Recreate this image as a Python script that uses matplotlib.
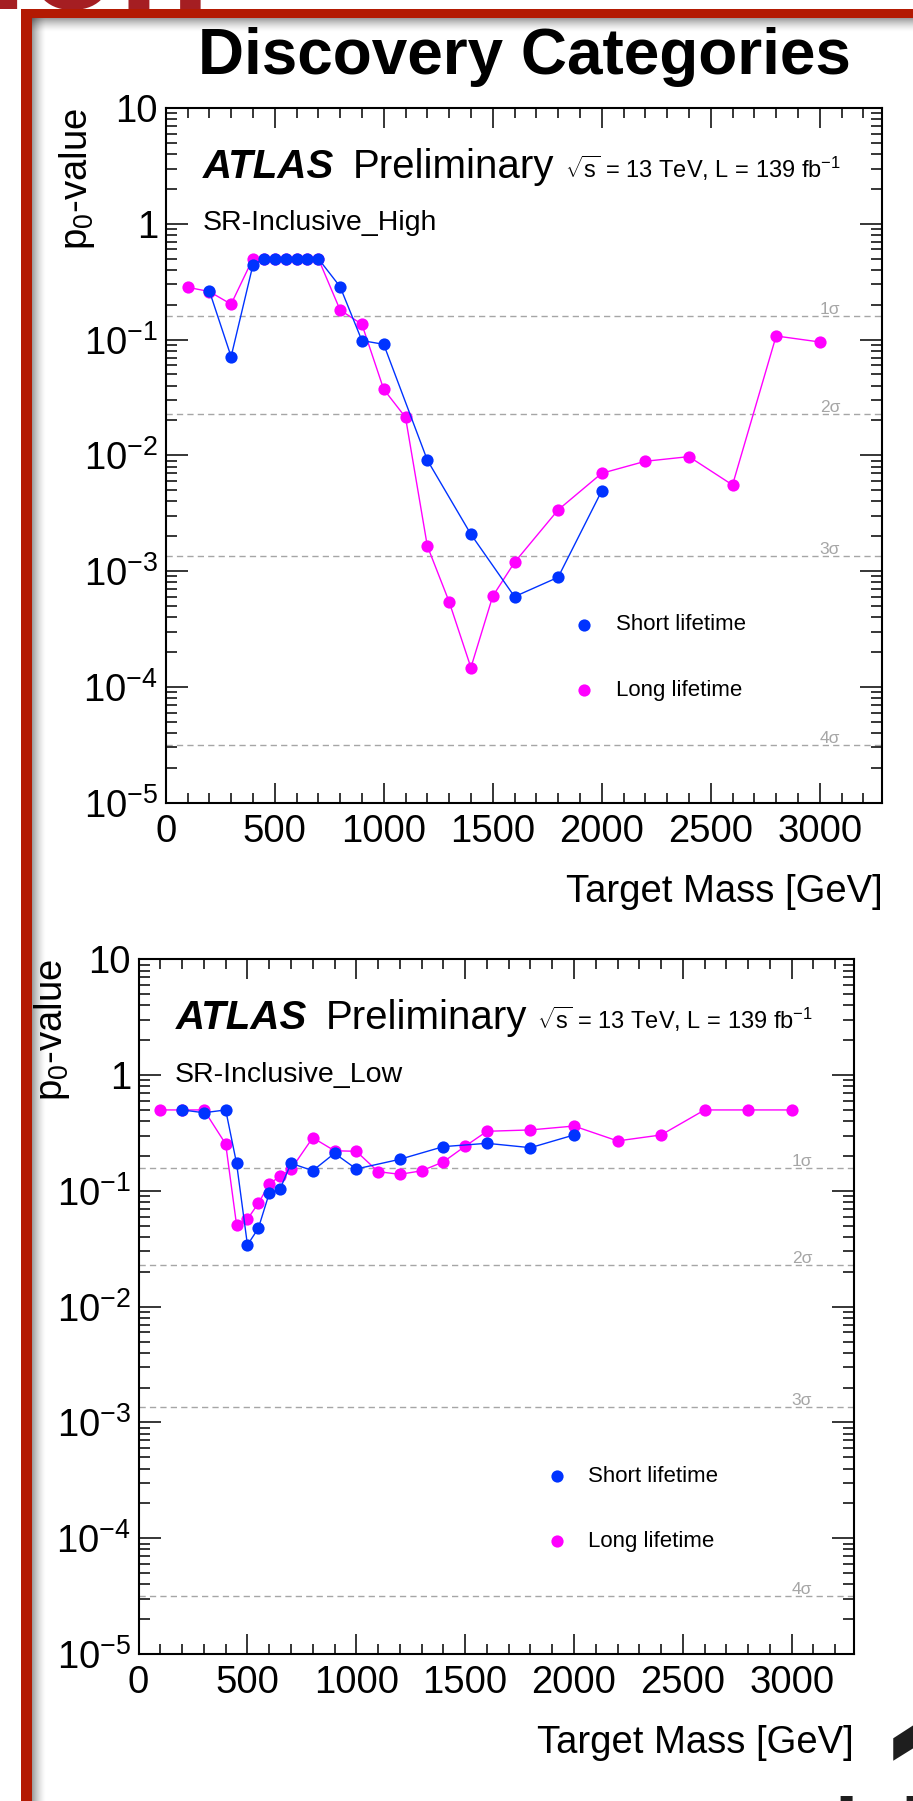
import matplotlib
matplotlib.use("Agg")
import matplotlib.pyplot as plt
from matplotlib.patches import Rectangle
from matplotlib.ticker import MultipleLocator, FixedLocator, FixedFormatter, LogLocator, NullFormatter

plt.rcParams['font.family'] = ['Liberation Sans', 'DejaVu Sans']
plt.rcParams['mathtext.fontset'] = 'custom'
plt.rcParams['mathtext.rm'] = 'Liberation Sans'
plt.rcParams['mathtext.it'] = 'Liberation Sans:italic'
plt.rcParams['mathtext.bf'] = 'Liberation Sans:bold'

# ---------------- data ----------------
# SR-Inclusive_High
high_short_mass = [200, 300, 400, 450, 500, 550, 600, 650, 700, 800, 900, 1000,
                   1200, 1400, 1600, 1800, 2000]
high_short_p0 = [0.264, 0.0712, 0.44, 0.5, 0.5, 0.5, 0.5, 0.5, 0.5, 0.286, 0.098,
                 0.091, 0.0091, 0.00208, 0.000602, 0.000885, 0.00493]
high_long_mass = [100, 200, 300, 400, 450, 500, 550, 600, 650, 700, 800, 900, 1000,
                  1100, 1200, 1300, 1400, 1500, 1600, 1800, 2000, 2200, 2400, 2600,
                  2800, 3000]
high_long_p0 = [0.283, 0.26, 0.202, 0.5, 0.5, 0.5, 0.5, 0.5, 0.5, 0.5, 0.180, 0.1355,
                0.0372, 0.0213, 0.00165, 0.000545, 0.000147, 0.000607, 0.00119,
                0.00338, 0.0070, 0.00889, 0.00975, 0.00555, 0.1074, 0.0953]

# SR-Inclusive_Low
low_short_mass = [200, 300, 400, 450, 500, 550, 600, 650, 700, 800, 900, 1000,
                  1200, 1400, 1600, 1800, 2000]
low_short_p0 = [0.5, 0.473, 0.5, 0.173, 0.0341, 0.0475, 0.0953, 0.1038, 0.173,
                0.1495, 0.211, 0.1546, 0.1874, 0.241, 0.2575, 0.236, 0.304]
low_long_mass = [100, 200, 300, 400, 450, 500, 550, 600, 650, 700, 800, 900, 1000,
                 1100, 1200, 1300, 1400, 1500, 1600, 1800, 2000, 2200, 2400, 2600,
                 2800, 3000]
low_long_p0 = [0.5, 0.5, 0.5, 0.254, 0.0508, 0.0569, 0.0782, 0.114, 0.1345, 0.1536,
               0.288, 0.222, 0.2197, 0.1465, 0.139, 0.149, 0.178, 0.243, 0.327,
               0.336, 0.363, 0.270, 0.304, 0.5, 0.5, 0.5]

# local significance reference levels
sigma_labels = ['1σ', '2σ', '3σ', '4σ']
sigma_p0 = [0.1587, 0.02275, 0.00135, 3.17e-5]

y_ticks = [1e-5, 1e-4, 1e-3, 1e-2, 1e-1, 1, 10]
y_tick_labels = [r'$10^{-5}$', r'$10^{-4}$', r'$10^{-3}$', r'$10^{-2}$',
                 r'$10^{-1}$', '1', '10']

series_names = ['Short lifetime', 'Long lifetime']

# ---------------- style ----------------
BLUE = '#0033FF'
MAGENTA = '#FF00FF'
GRAY = '#A6A6A6'
RED = '#B31A02'
MS = 8.8

W, H = 913, 1801
fig = plt.figure(figsize=(W / 100, H / 100), dpi=100)
fig.patch.set_facecolor('white')


def px_rect(x0, y0, w, h, **kw):
    """Rectangle given in pixels measured from the top-left corner."""
    r = Rectangle((x0 / W, 1 - (y0 + h) / H), w / W, h / H,
                  transform=fig.transFigure, linewidth=0, **kw)
    fig.add_artist(r)
    return r


def panel(ax_rect, region, short_m, short_p, long_m, long_p, ylab_x):
    ax = fig.add_axes(ax_rect)
    ax.set_facecolor('none')
    ax.set_yscale('log')
    ax.set_xlim(0, 3287)
    ax.set_ylim(1e-5, 10)

    for p, lab in zip(sigma_p0, sigma_labels):
        ax.axhline(p, color=GRAY, lw=1.0, dashes=(4.5, 3.0), zorder=1)
        ax.annotate(lab, xy=(3000, p), xytext=(0, 1.5), textcoords='offset points',
                    ha='left', va='baseline', fontsize=12.5, color=GRAY)

    ax.plot(long_m, long_p, '-', color=MAGENTA, lw=1.0, zorder=3)
    ax.plot(long_m, long_p, 'o', color=MAGENTA, ms=MS, mew=0, zorder=4)
    ax.plot(short_m, short_p, '-', color=BLUE, lw=1.0, zorder=5)
    ax.plot(short_m, short_p, 'o', color=BLUE, ms=MS, mew=0, zorder=6)

    # axes styling
    for s in ax.spines.values():
        s.set_linewidth(1.5)
    ax.xaxis.set_major_locator(MultipleLocator(500))
    ax.xaxis.set_minor_locator(MultipleLocator(100))
    ax.yaxis.set_major_locator(FixedLocator(y_ticks))
    ax.yaxis.set_major_formatter(FixedFormatter(y_tick_labels))
    ax.yaxis.set_minor_locator(LogLocator(base=10, subs=range(2, 10), numticks=20))
    ax.yaxis.set_minor_formatter(NullFormatter())
    ax.tick_params(which='both', direction='in', top=True, right=True, width=1.1)
    ax.tick_params(axis='x', which='major', length=14.4, pad=8, labelsize=27.5)
    ax.tick_params(axis='x', which='minor', length=7.2)
    ax.tick_params(axis='y', which='major', length=15.8, pad=5.5, labelsize=27.5)
    ax.tick_params(axis='y', which='minor', length=8.0)

    # ATLAS label block
    ax.text(0.052, 0.899, 'ATLAS', transform=ax.transAxes, fontsize=29,
            fontweight='bold', fontstyle='italic', va='baseline')
    ax.text(0.261, 0.899, 'Preliminary', transform=ax.transAxes, fontsize=29,
            va='baseline')
    ax.text(0.557, 0.899, r'$\sqrt{\mathrm{s}}$ = 13 TeV, L = 139 fb$^{-1}$',
            transform=ax.transAxes, fontsize=17, va='baseline')
    ax.text(0.051, 0.824, region, transform=ax.transAxes, fontsize=20.5,
            va='baseline')

    # legend
    for yy, col, name in zip([0.256, 0.162], [BLUE, MAGENTA], series_names):
        ax.plot([0.584], [yy], 'o', color=col, ms=MS, mew=0, transform=ax.transAxes,
                clip_on=False)
        ax.text(0.628, yy, name, transform=ax.transAxes, fontsize=16, va='center')

    # axis titles
    ax.annotate('Target Mass [GeV]', xy=(1, 0), xycoords='axes fraction',
                xytext=(0, -51), textcoords='offset points', ha='right', va='top',
                fontsize=27.5)
    top_px = (1 - ax_rect[1] - ax_rect[3]) * H
    fig.text(ylab_x / W, 1 - top_px / H, r'p$_{0}$-value', rotation=90,
             ha='left', va='top', fontsize=27.5)
    return ax


# axes placements (figure fractions)
ax_top = panel([165.7 / W, 1 - 802.7 / H, 716.6 / W, 694.7 / H], 'SR-Inclusive_High',
               high_short_mass, high_short_p0, high_long_mass, high_long_p0, 57)
ax_bot = panel([138.6 / W, 1 - 1654 / H, 715.6 / W, 694.7 / H], 'SR-Inclusive_Low',
               low_short_mass, low_short_p0, low_long_mass, low_long_p0, 32)

fig.text(524 / W, 1 - 74 / H, 'Discovery Categories', ha='center', va='baseline',
         fontsize=46, fontweight='bold')

# slide frame: inner shadow, red border and neighbouring slide text
n = 14
for i in range(n):
    a = 0.38 * (1 - i / n) ** 1.6
    px_rect(31.7 + i, 18.3, 1.0, H, color='black', alpha=a, zorder=2)
    px_rect(31.7, 18.3 + i, W, 1.0, color='black', alpha=a, zorder=2)

fig.text(-14.5 / W, 1 - 9.5 / H, 'ion', fontsize=108, fontweight='bold',
         color='#A51E22', ha='left', va='baseline', zorder=6)
px_rect(20.7, 9.3, W, 9.0, color=RED, zorder=7)
px_rect(20.7, 9.3, 11.0, H, color=RED, zorder=7)

fig.text(879 / W, 1 - 1858 / H, '1', fontsize=150, fontweight='bold',
         color='#1E1E1E', ha='left', va='baseline')
fig.text(834.7 / W, 1 - 1854 / H, 'I', fontsize=60, fontweight='bold',
         color='#1E1E1E', ha='left', va='baseline')
fig.text(900.7 / W, 1 - 1854 / H, 'I', fontsize=60, fontweight='bold',
         color='#1E1E1E', ha='left', va='baseline')

fig.savefig('out.png', dpi=100)
